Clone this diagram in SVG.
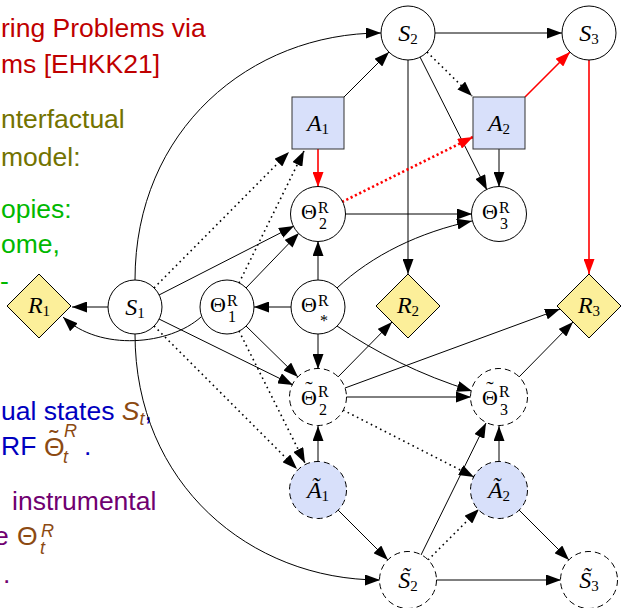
<svg xmlns="http://www.w3.org/2000/svg" width="621" height="608" viewBox="0 0 621 608">
<defs>
<marker id="ah" viewBox="0 0 15 11" refX="15" refY="5.5" markerWidth="15" markerHeight="11" markerUnits="userSpaceOnUse" orient="auto"><path d="M0,0 L15,5.5 L0,11 Z" fill="#000"/></marker>
<marker id="ahr" viewBox="0 0 15 11" refX="15" refY="5.5" markerWidth="15" markerHeight="11" markerUnits="userSpaceOnUse" orient="auto"><path d="M0,0 L15,5.5 L0,11 Z" fill="#f00"/></marker>
</defs>
<style>
.t{font-family:"Liberation Sans",Arial,sans-serif;font-size:26.5px}
.lb{font-family:"Liberation Serif","Times New Roman",serif;font-size:24px;text-anchor:middle}
.th{font-family:"Liberation Serif","Times New Roman",serif;font-size:22px;text-anchor:middle}
.sm{font-family:"Liberation Serif","Times New Roman",serif;font-size:16px}
.it{font-style:italic}
.c{fill:#fff;stroke:#000;stroke-width:1}
.cd{fill:#fff;stroke:#000;stroke-width:1;stroke-dasharray:6,4}
.ad{fill:#d8e0fa;stroke:#000;stroke-width:1;stroke-dasharray:6,4}
.box{fill:#d8e0fa;stroke:#333;stroke-width:1}
.dia{fill:#fcef9a;stroke:#000;stroke-width:1}
.e{fill:none;stroke:#000;stroke-width:1;marker-end:url(#ah)}
.dt{stroke-dasharray:1.6,3.6;stroke-width:1.6}
.r{fill:none;stroke:#f00;stroke-width:1.6;marker-end:url(#ahr)}
.rd{stroke-dasharray:2.2,2.6;stroke-width:2.6}
</style>

<!-- left-side text -->
<g id="sidetext" class="t">
<text fill="#bf0000"><tspan x="1" y="37">ring Problems via</tspan><tspan x="1" y="73">ms [EHKK21]</tspan></text>
<text fill="#737300"><tspan x="1" y="128">nterfactual</tspan><tspan x="1" y="166">model:</tspan></text>
<text fill="#00b800"><tspan x="1" y="218">opies:</tspan><tspan x="1" y="253">ome,</tspan><tspan x="0" y="290">-</tspan></text>
<text fill="#0000bf" x="1" y="420">ual states <tspan fill="#8c4a12" font-style="italic">S</tspan><tspan fill="#8c4a12" font-style="italic" font-size="18" dy="5">t</tspan><tspan dy="-5">,</tspan></text>
<text fill="#0000bf" x="1" y="455">RF</text>
<text fill="#8c4a12" x="44" y="456">Θ</text>
<text fill="#8c4a12" x="54" y="448" text-anchor="middle">˜</text>
<text fill="#8c4a12" x="64" y="437" font-size="18" font-style="italic">R</text>
<text fill="#8c4a12" x="63" y="463" font-size="18" font-style="italic">t</text>
<text fill="#0000bf" x="84" y="455">.</text>
<text fill="#700070" x="12" y="510">instrumental</text>
<text fill="#700070" x="-6" y="545">e</text>
<text fill="#8c4a12" x="17" y="545">Θ</text>
<text fill="#8c4a12" x="41" y="537" font-size="18" font-style="italic">R</text>
<text fill="#8c4a12" x="40" y="554" font-size="18" font-style="italic">t</text>
<text fill="#700070" x="3" y="583">.</text>
</g>

<!-- connectors -->
<g id="connectors">
<path class="e" d="M108,307 L72,307"/>
<path class="e" d="M201,317 C170,345 100,352 63,317"/>
<path class="e" d="M135,280 C135,130 250,33 381,33"/>
<path class="e" d="M135,334 C135,484 250,580 380,580"/>
<path class="e" d="M159,295 L294,226"/>
<path class="e" d="M246,288 L299,233"/>
<path class="e" d="M318,280 L318,241"/>
<path class="e" d="M291,307 L254,307"/>
<path class="e" d="M318,334 L318,369"/>
<path class="e" d="M337,288 C372,255 420,232 472,221"/>
<path class="e" d="M337,326 C375,352 420,375 472,391"/>
<path class="e" d="M246,326 L298,377"/>
<path class="e" d="M159,319 L293,385"/>
<path class="e" d="M345,214 L472,214"/>
<path class="e" d="M408,60 L408,274"/>
<path class="e" d="M435,33 L562,33"/>
<path class="e dt" d="M427,52 L472,96"/>
<path class="e" d="M420,57 L487,190"/>
<path class="e" d="M499,149 L499,187"/>
<path class="r" d="M525,97 L570,52"/>
<path class="r" d="M589,60 L589,274"/>
<path class="e" d="M344,97 L389,52"/>
<path class="r" d="M318,149 L318,187"/>
<path class="r rd" d="M342,202 L473,137"/>
<path class="e dt" d="M154,288 L289,152"/>
<path class="e dt" d="M239,283 L304,151"/>
<path class="e dt" d="M154,326 L297,469"/>
<path class="e dt" d="M239,331 L305,463"/>
<path class="e" d="M318,462 L318,426"/>
<path class="e" d="M337,509 L388,560"/>
<path class="e dt" d="M343,410 L474,477"/>
<path class="e" d="M346,397 L471,397"/>
<path class="e" d="M338,377 L392,322"/>
<path class="e" d="M345,388 L560,309"/>
<path class="e" d="M519,377 L573,322"/>
<path class="e" d="M499,462 L499,426"/>
<path class="e" d="M519,510 L569,560"/>
<path class="e" d="M421,555 L486,423"/>
<path class="e dt" d="M428,560 L479,509"/>
<path class="e" d="M436,580 L561,580"/>
</g>

<!-- nodes -->
<g id="R1"><polygon class="dia" points="39,274 71,306 39,338 7,306"/><text class="lb" x="39" y="313"><tspan class="it">R</tspan><tspan font-size="15" dy="3">1</tspan></text></g>
<g id="S1"><circle class="c" cx="135" cy="307" r="27"/><text class="lb" x="135" y="315"><tspan class="it">S</tspan><tspan font-size="15" dy="3">1</tspan></text></g>
<g id="Theta1"><circle class="c" cx="227" cy="307" r="27"/><text class="th" x="218" y="312">Θ</text><text class="sm" x="227" y="306">R</text><text class="sm" x="228" y="322">1</text></g>
<g id="ThetaStar"><circle class="c" cx="318" cy="307" r="27"/><text class="th" x="309" y="312">Θ</text><text class="sm" x="318" y="306">R</text><text class="sm" x="320" y="326">*</text></g>
<g id="S2"><circle class="c" cx="408" cy="33" r="27"/><text class="lb" x="408" y="41"><tspan class="it">S</tspan><tspan font-size="15" dy="3">2</tspan></text></g>
<g id="S3"><circle class="c" cx="589" cy="33" r="27"/><text class="lb" x="589" y="41"><tspan class="it">S</tspan><tspan font-size="15" dy="3">3</tspan></text></g>
<g id="A1"><rect class="box" x="292" y="97" width="52" height="52"/><text class="lb" x="318" y="131"><tspan class="it">A</tspan><tspan font-size="15" dy="3">1</tspan></text></g>
<g id="A2"><rect class="box" x="473" y="97" width="52" height="52"/><text class="lb" x="499" y="131"><tspan class="it">A</tspan><tspan font-size="15" dy="3">2</tspan></text></g>
<g id="Theta2"><circle class="c" cx="318" cy="214" r="27.5"/><text class="th" x="309" y="219">Θ</text><text class="sm" x="318" y="213">R</text><text class="sm" x="319" y="229">2</text></g>
<g id="Theta3"><circle class="c" cx="499" cy="214" r="27.5"/><text class="th" x="490" y="219">Θ</text><text class="sm" x="499" y="213">R</text><text class="sm" x="500" y="229">3</text></g>
<g id="R2"><polygon class="dia" points="408,274 440,306 408,338 376,306"/><text class="lb" x="408" y="313"><tspan class="it">R</tspan><tspan font-size="15" dy="3">2</tspan></text></g>
<g id="R3"><polygon class="dia" points="589,274 621,306 589,338 557,306"/><text class="lb" x="589" y="313"><tspan class="it">R</tspan><tspan font-size="15" dy="3">3</tspan></text></g>
<g id="Theta2t"><circle class="cd" cx="318" cy="397" r="28.5"/><text class="th" x="309" y="405">Θ</text><text class="th" x="309" y="396">˜</text><text class="sm" x="318" y="397">R</text><text class="sm" x="319" y="415">2</text></g>
<g id="Theta3t"><circle class="cd" cx="499" cy="397" r="28.5"/><text class="th" x="490" y="405">Θ</text><text class="th" x="490" y="396">˜</text><text class="sm" x="499" y="397">R</text><text class="sm" x="500" y="415">3</text></g>
<g id="A1t"><circle class="ad" cx="318" cy="490" r="28.5"/><text class="lb" x="318" y="498"><tspan class="it">Ã</tspan><tspan font-size="15" dy="3">1</tspan></text></g>
<g id="A2t"><circle class="ad" cx="499" cy="490" r="28.5"/><text class="lb" x="499" y="498"><tspan class="it">Ã</tspan><tspan font-size="15" dy="3">2</tspan></text></g>
<g id="S2t"><circle class="cd" cx="408" cy="580" r="28.5"/><text class="lb" x="408" y="588"><tspan class="it">S̃</tspan><tspan font-size="15" dy="3">2</tspan></text></g>
<g id="S3t"><circle class="cd" cx="589" cy="580" r="28.5"/><text class="lb" x="589" y="588"><tspan class="it">S̃</tspan><tspan font-size="15" dy="3">3</tspan></text></g>
</svg>
